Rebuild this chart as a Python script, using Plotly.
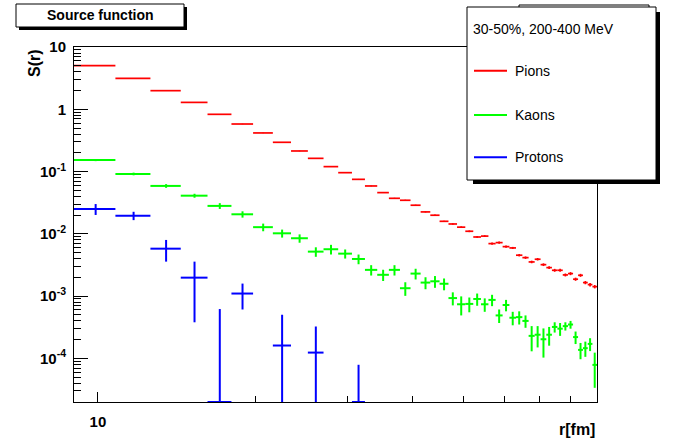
import math
import plotly.graph_objects as go

# ---------------- data ----------------
r_edges = [9.0, 10.8, 12.6, 14.4, 16.2, 18.0, 19.8, 21.6, 23.4, 25.2, 27.0, 28.8,
           30.6, 32.4, 34.2, 36.0, 37.8, 39.6, 41.4, 43.2, 45.0, 46.8, 48.6, 50.4,
           52.2, 54.0, 55.8, 57.6, 59.4, 61.2, 63.0, 64.8, 66.6, 68.4, 70.2, 72.0,
           73.8, 75.6, 77.4, 79.2, 81.0, 82.8, 84.6, 86.4, 88.2, 90.0]

pion_vals = [5.01, 3.14, 1.99, 1.29, 0.83, 0.58, 0.417, 0.295, 0.214, 0.163,
             0.120, 0.096, 0.075, 0.0587, 0.0459, 0.0372, 0.0346, 0.0288, 0.0225, 0.0199,
             0.0159, 0.0144, 0.0128, 0.0110, 0.0089, 0.0092, 0.00697, 0.00723, 0.00623, 0.00594,
             0.00454, 0.00415, 0.00354, 0.00391, 0.00320, 0.00287, 0.00260, 0.00260, 0.00219, 0.00230,
             0.00187, 0.00216, 0.00165, 0.00153, 0.00142]
pion_errs = [0.02, 0.015, 0.01, 0.008, 0.006, 0.005, 0.004, 0.003, 0.0025, 0.002,
             0.0016, 0.0013, 0.0011, 0.0009, 0.0008, 0.0007, 0.0007, 0.0006, 0.0005, 0.0005,
             0.0004, 0.0004, 0.0004, 0.00035, 0.0003, 0.0003, 0.00026, 0.00027, 0.00024, 0.00023,
             0.0002, 0.00019, 0.00017, 0.00018, 0.00016, 0.00015, 0.00014, 0.00014, 0.00012, 0.00013,
             0.00011, 0.00012, 0.0001, 0.0001, 0.00009]

kaon_vals = [0.153, 0.0916, 0.0588, 0.0410, 0.0281, 0.0206, 0.0128, 0.0102, 0.0085, 0.00518,
             0.00566, 0.00481, 0.00395, 0.00264, 0.00220, 0.00264, 0.00134, 0.00230, 0.00165, 0.00173,
             0.00158, 0.00093, 0.00074, 0.00075, 0.00090, 0.00074, 0.00087, 0.00049, 0.00072, 0.00045,
             0.00046, 0.00040, 0.00023, 0.00024, 0.000203, 0.00024, 0.00032, 0.00030, 0.00033, 0.00035,
             0.00022, 0.000137, 0.000146, 0.000171, 0.0000787]
kaon_errs = [0.006, 0.0045, 0.004, 0.003, 0.003, 0.0024, 0.0018, 0.0015, 0.0013, 0.0009,
             0.0010, 0.0008, 0.0007, 0.00050, 0.00045, 0.00050, 0.00033, 0.00045, 0.00036, 0.00037,
             0.00034, 0.00022, 0.00025, 0.00020, 0.00020, 0.00018, 0.00018, 0.00012, 0.00015, 0.00011,
             0.00011, 0.00009, 0.00010, 0.00009, 0.00010, 0.00008, 0.00006, 0.00007, 0.00005, 0.00005,
             0.00005, 0.00004, 0.00004, 0.00004, 0.000045]

proton_vals = [0.0251, 0.0196, 0.00578, 0.00198, 0.0, 0.00110, None, 0.000161, None, 0.000124,
               None, None, 0.0] + [None] * 32
proton_errs = [0.005, 0.003, 0.0022, 0.0016, 0.00062, 0.00049, None, 0.00034, None, 0.0002,
               None, None, 0.000079] + [None] * 32

series_names = ["Pions", "Kaons", "Protons"]
series_colors = ["#ff0000", "#00ff00", "#0000ff"]
series_widths = [1.7, 2, 2]
legend_header = "30-50%, 200-400 MeV"
plot_title = "Source function"
x_title = "r[fm]"
y_title = "S(r)"

x_range = [9.0, 90.0]
y_range_log = [-4.7, 1.0]
x_major = [10]
x_major_text = ["10"]
x_minor = [20, 30, 40, 50, 60, 70, 80]
y_major = [1e-4, 1e-3, 1e-2, 1e-1, 1, 10]
y_major_text = ["10<sup>-4</sup>", "10<sup>-3</sup>", "10<sup>-2</sup>",
                "10<sup>-1</sup>", "1", "10"]

# ---------------- layout geometry ----------------
W, H = 675, 448
L, R, T, B = 74, 78, 47, 46
PW, PH = W - L - R, H - T - B


def px(x):
    return (x - L) / PW


def py(y):
    return (H - B - y) / PH


centers = [(r_edges[i] + r_edges[i + 1]) / 2 for i in range(len(r_edges) - 1)]
halfw = [(r_edges[i + 1] - r_edges[i]) / 2 for i in range(len(r_edges) - 1)]
floor_val = 10 ** y_range_log[0]

fig = go.Figure()
for name, vals, errs, col, lw in zip(series_names,
                                     [pion_vals, kaon_vals, proton_vals],
                                     [pion_errs, kaon_errs, proton_errs],
                                     series_colors, series_widths):
    xs, ys, ex, eu, ed = [], [], [], [], []
    for c, hw, v, e in zip(centers, halfw, vals, errs):
        if v is None:
            continue
        yp = v if v > floor_val else floor_val
        xs.append(c)
        ys.append(yp)
        ex.append(hw)
        eu.append(v + e - yp)
        ed.append(max(yp - (v - e), 0) if v > 0 else 0)
    fig.add_trace(go.Scatter(
        x=xs, y=ys, mode="markers", name=name, showlegend=False,
        marker=dict(size=1, color="rgba(0,0,0,0)"),
        error_x=dict(type="data", array=ex, symmetric=True, width=0,
                     thickness=lw, color=col),
        error_y=dict(type="data", array=eu, arrayminus=ed, symmetric=False,
                     width=0, thickness=lw, color=col),
        cliponaxis=True,
    ))

font_family = "Liberation Sans, Arial, Helvetica, sans-serif"

fig.update_layout(
    width=W, height=H,
    margin=dict(l=L, r=R, t=T, b=B),
    paper_bgcolor="white", plot_bgcolor="white",
    showlegend=False,
    font=dict(family=font_family, color="black"),
    xaxis=dict(
        type="log", range=[math.log10(x_range[0]), math.log10(x_range[1])],
        showgrid=False, zeroline=False, showline=True, linecolor="black",
        linewidth=1, mirror=True,
        tickmode="array", tickvals=x_major, ticktext=x_major_text,
        ticks="inside", ticklen=10, tickcolor="black", tickwidth=1,
        ticklabelstandoff=6,
        tickfont=dict(size=15, weight="bold", family=font_family),
        minor=dict(tickmode="array", tickvals=x_minor, ticks="inside",
                   ticklen=6, tickcolor="black", tickwidth=1, showgrid=False),
    ),
    yaxis=dict(
        type="log", range=y_range_log,
        showgrid=False, zeroline=False, showline=True, linecolor="black",
        linewidth=1, mirror=True,
        tickmode="array", tickvals=y_major, ticktext=y_major_text,
        ticks="inside", ticklen=14, tickcolor="black", tickwidth=1,
        ticklabelstandoff=4,
        tickfont=dict(size=15, weight="bold", family=font_family),
        minor=dict(tickmode="array",
                   tickvals=[m * 10 ** k for k in range(-5, 1) for m in range(2, 10)],
                   ticks="inside", ticklen=7, tickcolor="black", tickwidth=1,
                   showgrid=False),
    ),
)

shapes = []


def rect(x0, y0, x1, y1, fill, line_w=1, line_col="black"):
    shapes.append(dict(type="rect", xref="paper", yref="paper",
                       x0=px(x0), x1=px(x1), y0=py(y1), y1=py(y0),
                       fillcolor=fill, line=dict(color=line_col, width=line_w),
                       layer="above"))


# box behind legend (partially hidden)
rect(519, 5, 649, 40, "white")
# legend shadow + box
rect(473, 12, 660, 184, "black", 0)
rect(467, 7, 656, 180, "white")
# title shadow + box
rect(19, 7, 187, 30, "black", 0)
rect(16, 4, 184, 27, "white")

annotations = []
leg_y = [70.7, 115, 157.3]
for name, col, yy in zip(series_names, series_colors, leg_y):
    shapes.append(dict(type="line", xref="paper", yref="paper",
                       x0=px(474), x1=px(507), y0=py(yy), y1=py(yy),
                       line=dict(color=col, width=2), layer="above"))
    annotations.append(dict(xref="paper", yref="paper", x=px(513), y=py(yy),
                            text=name, showarrow=False, xanchor="left",
                            yanchor="middle",
                            font=dict(size=14, family=font_family, color="black")))

annotations.append(dict(xref="paper", yref="paper", x=px(471), y=py(28.5),
                        text=legend_header, showarrow=False, xanchor="left",
                        yanchor="middle",
                        font=dict(size=14, family=font_family, color="black")))
annotations.append(dict(xref="paper", yref="paper", x=px(100), y=py(15.5),
                        text=plot_title, showarrow=False, xanchor="center",
                        yanchor="middle",
                        font=dict(size=14, family=font_family, color="black",
                                  weight="bold")))
annotations.append(dict(xref="paper", yref="paper", x=px(597), y=py(430),
                        text=x_title, showarrow=False, xanchor="right",
                        yanchor="middle",
                        font=dict(size=16, family=font_family, color="black",
                                  weight="bold")))
annotations.append(dict(xref="paper", yref="paper", x=px(34), y=py(47),
                        text=y_title, showarrow=False, xanchor="center",
                        yanchor="top", textangle=-90,
                        font=dict(size=16, family=font_family, color="black",
                                  weight="bold")))

fig.update_layout(shapes=shapes, annotations=annotations)
fig.write_html("out.html",
               config={"displayModeBar": False, "staticPlot": True},
               post_script="document.body.style.margin='0px';document.body.style.overflow='hidden';")
